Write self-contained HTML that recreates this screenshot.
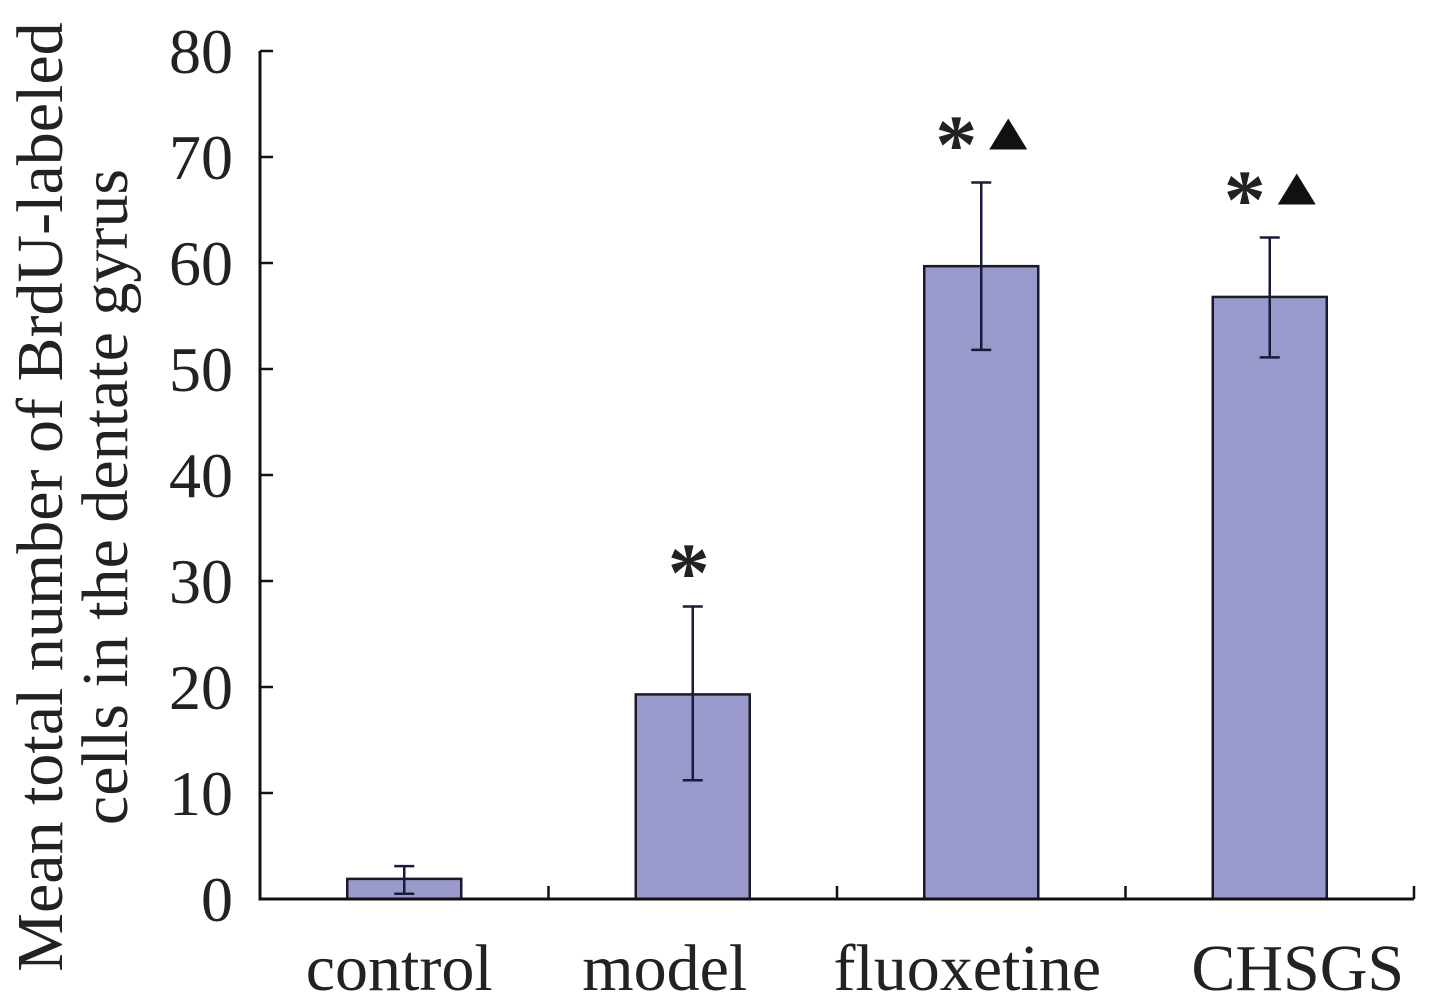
<!DOCTYPE html>
<html><head><meta charset="utf-8"><style>
body{margin:0;background:#fff}
svg{display:block}
text{font-family:"Liberation Serif",serif;fill:#222}
</style></head><body>
<svg width="1441" height="1006">
<g id="chart"></g>
<text transform="translate(62,497) rotate(-90)" text-anchor="middle" font-size="66">Mean total number of BrdU-labeled</text>
<text transform="translate(127,497) rotate(-90)" text-anchor="middle" font-size="66">cells in the dentate gyrus</text>
</svg>
<script>
const categories=["control","model","fluoxetine","CHSGS"];
const values=[1.9,19.3,59.7,56.8];
const errLow=[0.5,11.2,51.8,51.1];
const errHigh=[3.1,27.6,67.6,62.4];
const stars=[false,true,true,true];
const triangles=[false,false,true,true];
const yTicks=[0,10,20,30,40,50,60,70,80];
const NS="http://www.w3.org/2000/svg";
const g=document.getElementById('chart');
const x0=260,x1=1414,yBase=899,yTop=51,yMax=80;
const labelShift=[-5,-28,-14,28];
const cw=(x1-x0)/categories.length;
const y=v=>yBase-(v/yMax)*(yBase-yTop);
const xc=i=>x0+cw*(i+0.5);
function mk(t,a){const e=document.createElementNS(NS,t);for(const k in a)e.setAttribute(k,a[k]);g.appendChild(e);return e;}
categories.forEach((c,i)=>{
 const bw=114;
 const r=mk('rect',{x:xc(i)-bw/2,y:y(values[i]),width:bw,height:yBase-y(values[i]),fill:'#9999cc',stroke:'#1a1a2a','stroke-width':2.5});
 
 
 const e=mk('path',{d:`M${xc(i)},${y(errHigh[i])}V${y(errLow[i])}M${xc(i)-10},${y(errHigh[i])}H${xc(i)+10}M${xc(i)-10},${y(errLow[i])}H${xc(i)+10}`,stroke:'#1a1a3a','stroke-width':2.5,fill:'none'});
 
 
 const t=mk('text',{x:xc(i)+labelShift[i],y:990,'text-anchor':'middle','font-size':66});
 t.textContent=c;
 
 
 const top=y(errHigh[i]);
 if(stars[i]){
  const sx=triangles[i]?xc(i)-25:xc(i)-4;
  const m=mk('text',{x:sx,y:triangles[i]?top-10:top-6,'text-anchor':'middle','font-size':84,'font-family':'DejaVu Sans','font-weight':'bold'});
  m.textContent='*';
  
  
 }
 if(triangles[i]){
  const tx=xc(i)+27,tb=top-33;
  const p=mk('polygon',{points:`${tx-19},${tb} ${tx+19},${tb} ${tx},${tb-31}`,fill:'#111'});
  
  
 }
});
yTicks.forEach(v=>{
 const l=mk('line',{x1:x0,x2:x0+13,y1:y(v),y2:y(v),stroke:'#111','stroke-width':2.5});
 
 
 const t=mk('text',{x:233,y:y(v)+22,'text-anchor':'end','font-size':64});
 t.textContent=v;
 
 
});
for(let i=1;i<=categories.length;i++){
 const l=mk('line',{x1:x0+cw*i,x2:x0+cw*i,y1:yBase,y2:yBase-13,stroke:'#111','stroke-width':2.5});
 
 
}
const ax=mk('path',{d:`M${x0},${yTop}V${yBase}H${x1}`,stroke:'#111','stroke-width':3,fill:'none'});


</script>
</body></html>
